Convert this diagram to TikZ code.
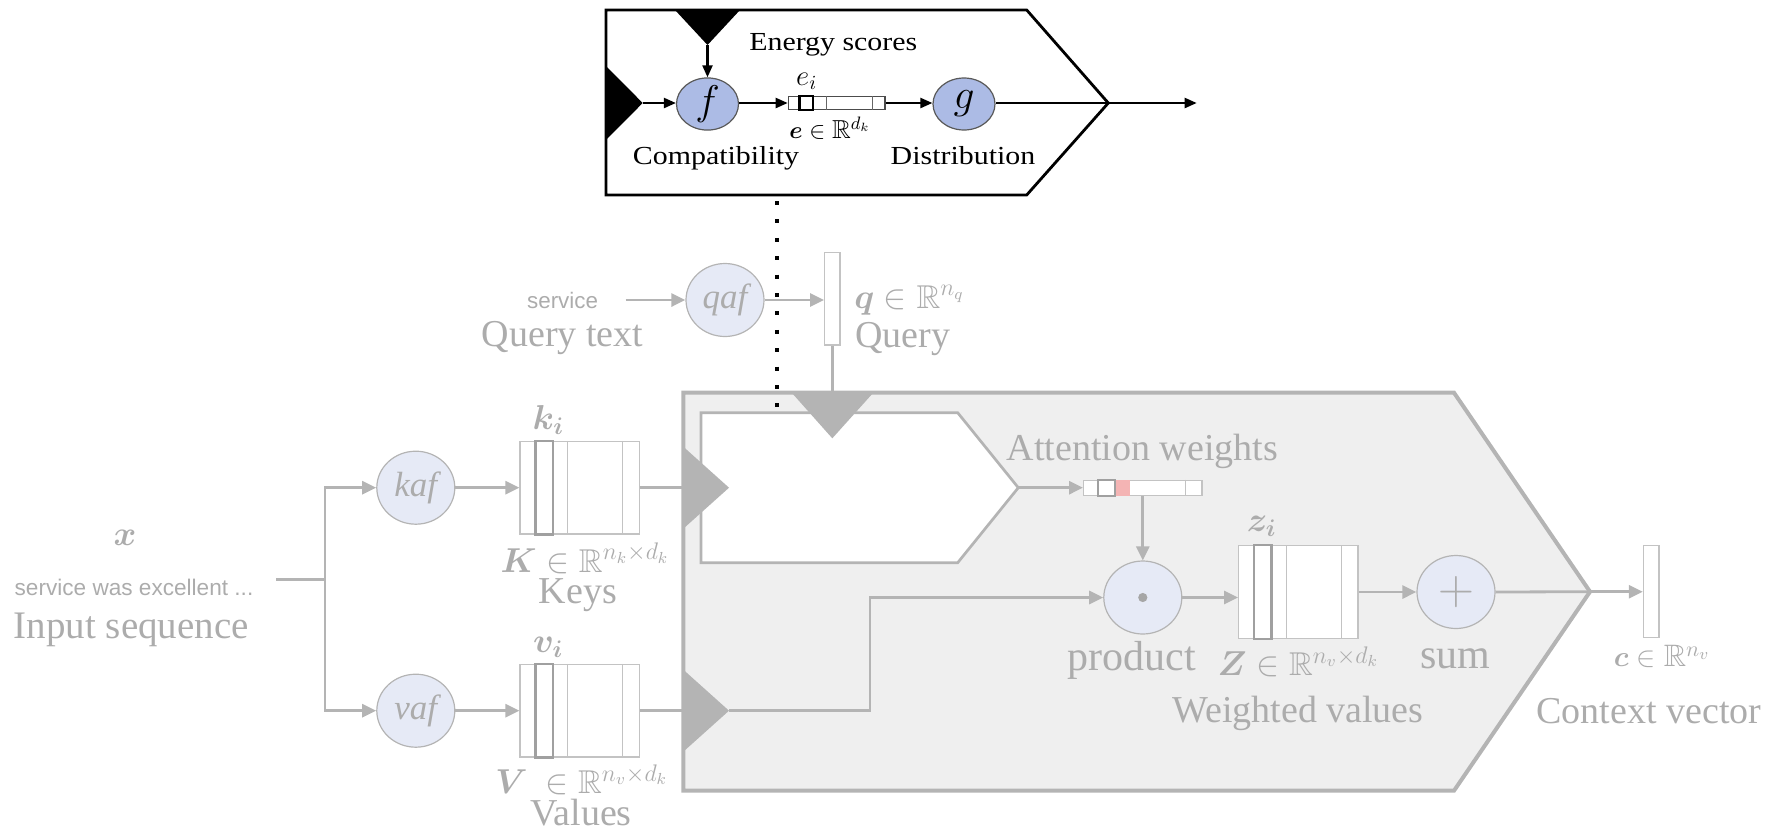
\documentclass[tikz,border=0pt]{standalone}
\usepackage{amsmath,amssymb}
\usepackage{graphicx}
\usepackage{fontspec}
\setmainfont{Liberation Serif}
\newfontfamily\sansf{Liberation Sans}
\usetikzlibrary{arrows.meta,shapes.geometric,calc}
\definecolor{lgray}{RGB}{180,180,180}
\definecolor{gtext}{RGB}{172,172,172}
\definecolor{boxfill}{RGB}{239,239,239}
\definecolor{cfill}{RGB}{230,234,246}
\definecolor{tfill}{RGB}{172,187,229}
\definecolor{cellc}{RGB}{195,195,195}
\definecolor{thickc}{RGB}{160,160,160}
\definecolor{pinkc}{RGB}{244,180,180}
\newcommand{\gmat}[2]{%
  \node[matbox] (#1) at (#2) {};
  \foreach \o in {8,24.15,51.65} {\draw[cellsep] ([xshift=\o pt]#1.north west) -- ([xshift=\o pt]#1.south west);}
  \draw[thickcell] ([xshift=8pt]#1.north west) rectangle ([xshift=16.65pt]#1.south west);
}
\begin{document}
\begin{tikzpicture}[x=0.5pt,y=-0.5pt,
  gl/.style={draw=lgray, line width=1.4pt},
  ga/.style={gl, -{Triangle[length=7pt,width=6.5pt]}},
  bl/.style={draw=black, line width=1.1pt},
  ba/.style={bl, -{Triangle[length=6pt,width=5pt]}},
  gcirc/.style={ellipse, draw=lgray, line width=0.6pt, fill=cfill, minimum width=39pt, minimum height=36.5pt, inner sep=0pt, text=gtext},
  tcirc/.style={ellipse, draw=black!65, line width=0.6pt, fill=tfill, minimum width=31pt, minimum height=26pt, inner sep=0pt, font=\fontsize{20.74}{24}\selectfont},
  matbox/.style={rectangle, draw=cellc, fill=white, line width=0.6pt, minimum width=59.65pt, minimum height=46.2pt, inner sep=0pt},
  cellsep/.style={draw=cellc, line width=0.6pt},
  thickcell/.style={draw=thickc, line width=1.1pt},
  vecbox/.style={rectangle, draw=cellc, fill=white, line width=0.6pt, inner sep=0pt},
  gt/.style={text=gtext, inner sep=0pt, font=\fontsize{19}{22}\selectfont},
  gm/.style={text=gtext, inner sep=0pt, font=\fontsize{16.5}{20}\selectfont},
  tt/.style={inner sep=0pt, font=\fontsize{13}{15}\selectfont},
  topbox/.style={draw=black, line width=1.4pt, fill=white, line join=miter},
  dots/.style={draw=black, line width=2pt, dash pattern=on 2pt off 7.2pt}
]
\useasboundingbox (0,0) rectangle (1769,831);

% ---------------- top box ----------------
\draw[topbox] (606,10) -- (1026.7,10) -- (1108.3,103) -- (1026.7,195) -- (606,195) -- cycle;
\coordinate (ttip) at (1108.3,103);
\coordinate (tend) at (1196.7,103);
\fill[black] (675,10) -- (740,10) -- (707.5,45) -- cycle;
\coordinate (t1) at (707.5,45);
\fill[black] (606,66) -- (642.7,103) -- (606,140) -- cycle;
\coordinate (t2) at (642.7,103);

\node[tcirc] (f) at (707.5,104) {$f$};
\node[tcirc] (g) at (964,104) {$g$};
\node[vecbox, draw=black!70, minimum width=48.35pt, minimum height=6.3pt] (ev) at (836.65,103) {};
\foreach \o in {19.5,42.2} {\draw[draw=black!60, line width=0.5pt] ([xshift=\o pt]ev.north west) -- ([xshift=\o pt]ev.south west);}
\draw[draw=black, line width=1.1pt] ([xshift=5.85pt]ev.north west) rectangle ([xshift=12.5pt]ev.south west);

\draw[ba] (t1) -- (f);
\draw[ba] (t2) -- (t2 -| f.west);
\draw[ba] (f.east |- ev) -- (ev);
\draw[ba] (ev) -- (ev -| g.west);
\draw[ba] (g.east |- ttip) -- (ttip) -- (tend);

\node[tt, anchor=base] (es) at (833.3,50) {\scalebox{1.15}[1]{Energy scores}};
\node[tt, anchor=base] (comp) at (716,164) {\scalebox{1.15}[1]{Compatibility}};
\node[tt, anchor=base] (dist) at (963,164) {\scalebox{1.15}[1]{Distribution}};
\node[tt, font=\fontsize{14}{16}\selectfont] (ei) at (806.7,81) {$e_i$};
\node[tt] (elab) at (830,128.3) {$\boldsymbol{e}\in\mathbb{R}^{d_k}$};

% ---------------- big gray box ----------------
\draw[draw=lgray, line width=2pt, fill=boxfill] (683.3,392.7) -- (1454,392.7) -- (1590,591.7) -- (1454,790.7) -- (683.3,790.7) -- cycle;
\coordinate (btip) at (1590,591.7);
\draw[draw=lgray, line width=1.35pt, fill=white] (701,412.7) -- (957.7,412.7) -- (1018.3,487.7) -- (957.7,562.7) -- (701,562.7) -- cycle;
\coordinate (itip) at (1018.3,487.7);
\fill[lgray] (791.7,392.7) -- (873.3,392.7) -- (832.3,438.3) -- cycle;
\fill[lgray] (683.3,446.7) -- (729,487.7) -- (683.3,528.7) -- cycle;
\fill[lgray] (683.3,669.7) -- (729,710.7) -- (683.3,751.7) -- cycle;
\coordinate (tk) at (683.3,487.7);
\coordinate (tv) at (683.3,710.7);
\coordinate (tvtip) at (729,710.7);
\coordinate (qtop) at (832.3,392.7);

% ---------------- query ----------------
\node[gt, font=\sansf\fontsize{11.2}{13}\selectfont, anchor=base] (serv) at (562.6,308) {service};
\node[gt, anchor=base] (qtext) at (562.6,346) {Query text};
\coordinate (servend) at (625.6,300);
\node[gcirc, font=\fontsize{17.5}{20}\selectfont\itshape] (qaf) at (725,300) {qaf};
\node[vecbox, minimum width=7.7pt, minimum height=46.15pt] (qv) at (832.3,298.85) {};
\node[gm] (qlab) at (909.5,300) {$\boldsymbol{q}\in\mathbb{R}^{n_q}$};
\node[gt, anchor=base] (qname) at (903,347) {Query};
\draw[ga] (servend) -- (qaf);
\draw[ga] (qaf) -- (qv.west |- qaf);
\draw[gl] (qv.south) -- (qtop);

% ---------------- input ----------------
\node[gm, font=\fontsize{16}{19}\selectfont] (xlab) at (125,538.3) {$\boldsymbol{x}$};
\node[gt, font=\sansf\fontsize{11.3}{13}\selectfont, anchor=base] (xtxt) at (134,595) {service was excellent ...};
\node[gt, font=\fontsize{19.5}{22}\selectfont, anchor=base] (xname) at (131.3,638.3) {Input sequence};
\coordinate (in) at (276,579.3);
\coordinate (br) at (325,579.3);
\node[gcirc, font=\fontsize{17.5}{20}\selectfont\itshape] (kaf) at (415.8,487.7) {kaf};
\node[gcirc, font=\fontsize{17.5}{20}\selectfont\itshape] (vaf) at (415.8,710.7) {vaf};
\draw[gl] (in) -- (br);
\draw[ga] (br) |- (kaf);
\draw[ga] (br) |- (vaf);

% keys and values
\gmat{K}{579.65,487.7}
\gmat{V}{579.65,710.7}
\node[gm] (kil) at (548.3,420) {$\boldsymbol{k_i}$};
\node[gm] (vil) at (548.3,647.3) {$\boldsymbol{v_i}$};
\node[gm] (klab) at (585,558.3) {$\boldsymbol{K}\in\mathbb{R}^{n_k\times d_k}$};
\node[gm] (vlab) at (581.7,780) {$\boldsymbol{V}\ \in\mathbb{R}^{n_v\times d_k}$};
\node[gt, anchor=base] (keys) at (578,603.3) {Keys};
\node[gt, anchor=base] (vals) at (581,825) {Values};
\draw[ga] (kaf) -- (K);
\draw[ga] (vaf) -- (V);
\draw[gl] (K.east) -- (tk);
\draw[gl] (V.east) -- (tv);

% ---------------- attention ----------------
\node[gt, anchor=base] (attl) at (1142.5,460) {Attention weights};
\node[vecbox, minimum width=59.2pt, minimum height=7.5pt] (att) at (1142.8,487.7) {};
\fill[pinkc] ([xshift=16.05pt]att.north west) rectangle ([xshift=23.7pt]att.south west);
\draw[cellsep] ([xshift=51.1pt]att.north west) -- ([xshift=51.1pt]att.south west);
\draw[thickcell] ([xshift=7.45pt]att.north west) rectangle ([xshift=16.05pt]att.south west);
\draw[ga] (itip) -- (att);

\node[gcirc] (prod) at (1142.8,597.5) {};
\fill[black!35] (prod.center) circle[radius=2.3pt];
\node[gt, font=\fontsize{21}{24}\selectfont, anchor=base] (prodl) at (1132,670) {product};
\draw[ga] (att.south -| prod.north) -- (prod.north);
\coordinate (bend) at (870,710.7);
\draw[ga] (tvtip) -- (bend) |- (prod.west);

\gmat{Z}{1298.35,592}
\node[gm] (zil) at (1261.7,526.7) {$\boldsymbol{z_i}$};
\node[gm] (zlab) at (1298.3,661.7) {$\boldsymbol{Z}\in\mathbb{R}^{n_v\times d_k}$};
\node[gt, anchor=base] (wv) at (1298,722.7) {Weighted values};
\draw[ga] (prod.east) -- (prod.east -| Z.west);

\node[gcirc, font=\fontsize{24}{26}\selectfont] (sum) at (1456,592) {$+$};
\node[gt, font=\fontsize{21}{24}\selectfont, anchor=base] (suml) at (1455,668.3) {sum};
\draw[ga] (Z.east |- sum) -- (sum.west);

\node[vecbox, minimum width=7.8pt, minimum height=46pt] (cv) at (1651.2,591.7) {};
\node[gm, font=\fontsize{15.5}{19}\selectfont] (clab) at (1662,656.7) {$\boldsymbol{c}\in\mathbb{R}^{n_v}$};
\node[gt, anchor=base] (cname) at (1649,723) {Context vector};
\draw[gl] (sum.east) -- (btip);
\draw[ga] (btip) -- (cv.west);

% dotted link
\coordinate (d1) at (777.3,201);
\coordinate (d2) at (777.3,408);
\draw[dots] (d1) -- (d2);
\end{tikzpicture}
\end{document}
